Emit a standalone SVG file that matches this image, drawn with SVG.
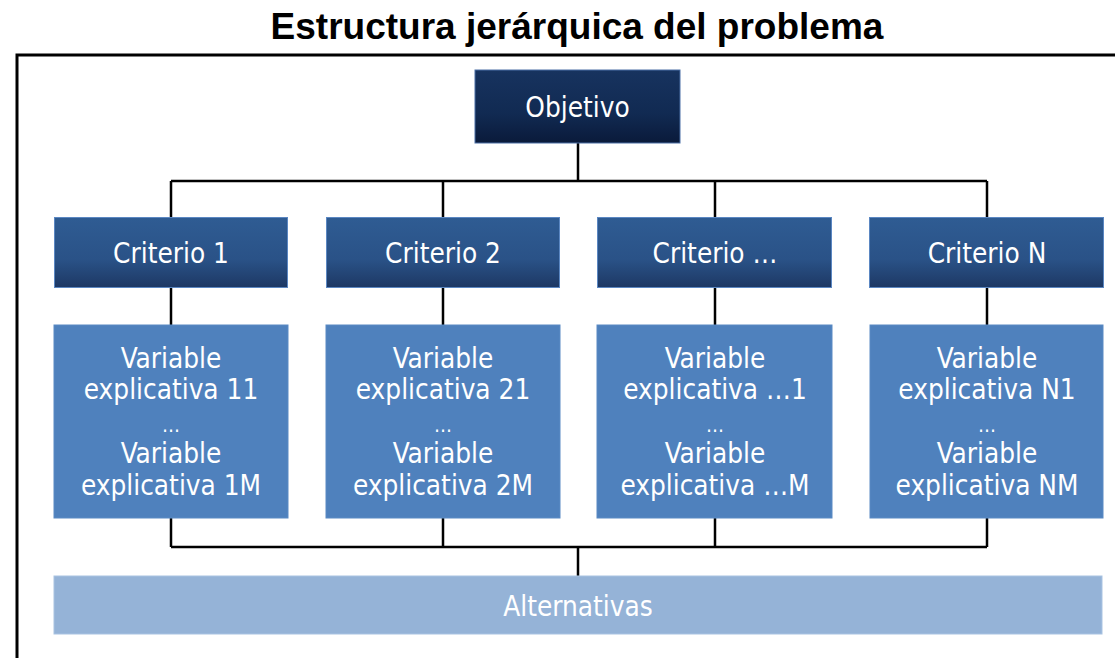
<svg xmlns="http://www.w3.org/2000/svg" width="1115" height="658" viewBox="0 0 1115 658">
<defs>
<linearGradient id="gObj" x1="0" y1="0" x2="0" y2="1">
<stop offset="0" stop-color="#17335f"/><stop offset="0.6" stop-color="#112a52"/><stop offset="1" stop-color="#0a1a3a"/>
</linearGradient>
<linearGradient id="gCrit" x1="0" y1="0" x2="0" y2="1">
<stop offset="0" stop-color="#2f5c93"/><stop offset="0.6" stop-color="#2a5287"/><stop offset="1" stop-color="#1d3864"/>
</linearGradient>
<style>
.t{font-family:"DejaVu Sans Condensed","DejaVu Sans",sans-serif;font-stretch:condensed;fill:#ffffff;text-anchor:middle;font-size:27.7px}
.title{font-family:"Liberation Sans",Arial,sans-serif;font-weight:bold;font-size:37px;fill:#000;text-anchor:middle}
.obj{fill:url(#gObj);stroke:#4a6fa5;stroke-width:1}
.crit{fill:url(#gCrit);stroke:#5b87c2;stroke-width:1}
.var{fill:#4f81bd;stroke:#5a8ac4;stroke-width:1}
.alt{fill:#95b3d7;stroke:#a9c3e2;stroke-width:1}
.ln{stroke:#000;stroke-width:2.5;fill:none}
.dots{font-size:20px}
</style>
</defs>
<rect width="1115" height="658" fill="#ffffff"/>
<text class="title" x="577" y="39">Estructura jerárquica del problema</text>
<path d="M17,658 V55 H1115" stroke="#000" stroke-width="3" fill="none"/>
<g id="connectors">
<path class="ln" d="M578,143 V181 M171,181 H987 M171,181 V217 M443,181 V217 M715,181 V217 M987,181 V217"/>
<path class="ln" d="M171,287 V325 M443,287 V325 M715,287 V325 M987,287 V325"/>
<path class="ln" d="M171,518 V547 M443,518 V547 M715,518 V547 M987,518 V547 M171,547 H987 M578,547 V576"/>
</g>
<g id="objetivo"><rect class="obj" x="475" y="70" width="205" height="73"/><text class="t" x="577.5" y="117">Objetivo</text></g>
<g id="criterio1"><rect class="crit" x="54.5" y="217.5" width="233" height="70"/><text class="t" x="171" y="263">Criterio 1</text></g>
<g id="criterio2"><rect class="crit" x="326.5" y="217.5" width="233" height="70"/><text class="t" x="443" y="263">Criterio 2</text></g>
<g id="criterio3"><rect class="crit" x="597.5" y="217.5" width="234" height="70"/><text class="t" x="715" y="263">Criterio …</text></g>
<g id="criterioN"><rect class="crit" x="869.5" y="217.5" width="234" height="70"/><text class="t" x="987" y="263">Criterio N</text></g>
<g id="var1"><rect class="var" x="54" y="325" width="234" height="193"/>
<text class="t" x="171" y="368">Variable</text><text class="t" x="171" y="399">explicativa 11</text><text class="t dots" x="171" y="432">…</text><text class="t" x="171" y="463">Variable</text><text class="t" x="171" y="495">explicativa 1M</text></g>
<g id="var2"><rect class="var" x="326" y="325" width="234" height="193"/>
<text class="t" x="443" y="368">Variable</text><text class="t" x="443" y="399">explicativa 21</text><text class="t dots" x="443" y="432">…</text><text class="t" x="443" y="463">Variable</text><text class="t" x="443" y="495">explicativa 2M</text></g>
<g id="var3"><rect class="var" x="597" y="325" width="235" height="193"/>
<text class="t" x="715" y="368">Variable</text><text class="t" x="715" y="399">explicativa …1</text><text class="t dots" x="715" y="432">…</text><text class="t" x="715" y="463">Variable</text><text class="t" x="715" y="495">explicativa …M</text></g>
<g id="varN"><rect class="var" x="870" y="325" width="233" height="193"/>
<text class="t" x="987" y="368">Variable</text><text class="t" x="987" y="399">explicativa N1</text><text class="t dots" x="987" y="432">…</text><text class="t" x="987" y="463">Variable</text><text class="t" x="987" y="495">explicativa NM</text></g>
<g id="alternativas"><rect class="alt" x="54" y="576" width="1048" height="58"/><text class="t" x="578" y="616">Alternativas</text></g>
</svg>
